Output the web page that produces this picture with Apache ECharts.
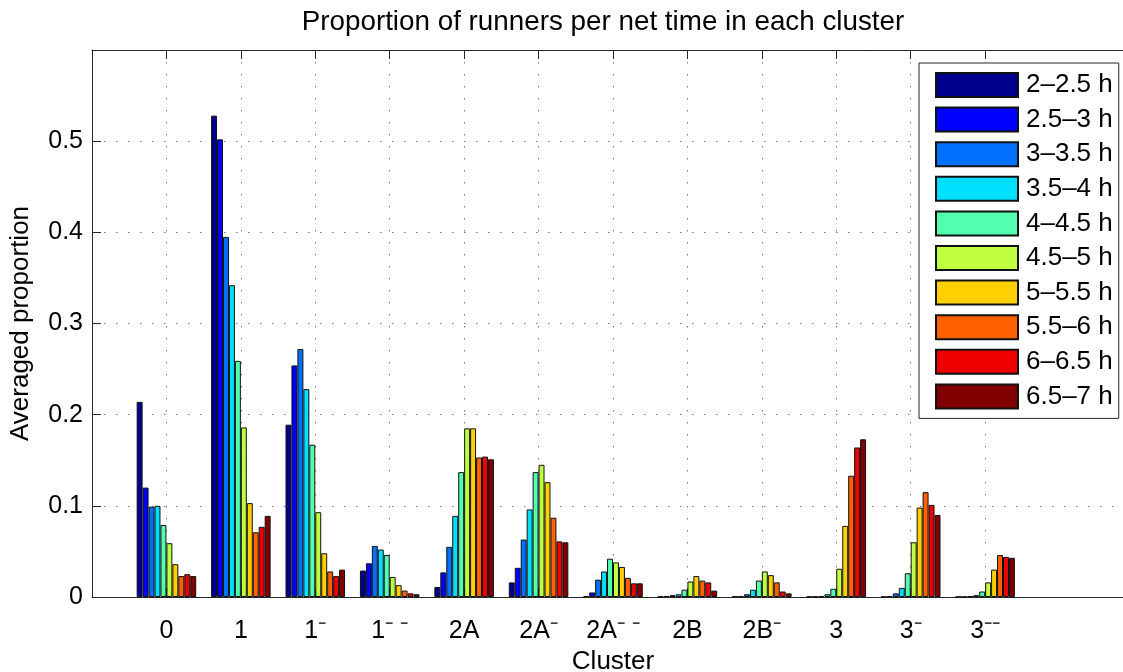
<!DOCTYPE html>
<html>
<head>
<meta charset="utf-8">
<title>Proportion of runners per net time in each cluster</title>
<script src="https://cdn.jsdelivr.net/npm/echarts@6/dist/echarts.min.js"></script>
<style>
  html, body { margin: 0; padding: 0; background: #fff; }
  #chart { width: 1123px; height: 672px; }
</style>
</head>
<body>
<div id="chart"></div>
<script>
// Cluster names shown under each bar group (group k sits at x = k + 1)
const clusters = ['0', '1', '1⁻', '1⁻ ⁻', '2A', '2A⁻', '2A⁻ ⁻', '2B', '2B⁻', '3', '3⁻', '3⁻⁻'];

// Net-time bins, one bar series each
const timeBins = ['2–2.5 h', '2.5–3 h', '3–3.5 h', '3.5–4 h', '4–4.5 h',
                  '4.5–5 h', '5–5.5 h', '5.5–6 h', '6–6.5 h', '6.5–7 h'];

// Jet-style colours for the ten bins
const binColors = ['#00008F', '#0000FF', '#0070FF', '#00DFFF', '#50FFAF',
                   '#BFFF40', '#FFCF00', '#FF6000', '#EF0000', '#800000'];

// Averaged proportion per cluster, one array per time bin
const t2_25  = [0.214, 0.528, 0.189, 0.029, 0.011, 0.016, 0.001, 0.0005, 0.0005, 0.0003, 0.0003, 0.0002];
const t25_3  = [0.120, 0.502, 0.254, 0.037, 0.027, 0.032, 0.005, 0.001, 0.001, 0.0005, 0.001, 0.0003];
const t3_35  = [0.099, 0.395, 0.272, 0.056, 0.055, 0.063, 0.019, 0.002, 0.003, 0.001, 0.004, 0.001];
const t35_4  = [0.100, 0.342, 0.228, 0.052, 0.089, 0.096, 0.028, 0.003, 0.008, 0.003, 0.010, 0.002];
const t4_45  = [0.079, 0.259, 0.167, 0.046, 0.137, 0.137, 0.042, 0.008, 0.018, 0.009, 0.026, 0.006];
const t45_5  = [0.059, 0.186, 0.093, 0.022, 0.185, 0.145, 0.038, 0.017, 0.028, 0.031, 0.060, 0.016];
const t5_55  = [0.036, 0.103, 0.048, 0.013, 0.185, 0.126, 0.033, 0.023, 0.024, 0.078, 0.098, 0.030];
const t55_6  = [0.023, 0.071, 0.028, 0.007, 0.153, 0.087, 0.021, 0.018, 0.016, 0.133, 0.115, 0.046];
const t6_65  = [0.025, 0.077, 0.023, 0.004, 0.154, 0.061, 0.015, 0.016, 0.006, 0.164, 0.101, 0.044];
const t65_7  = [0.023, 0.089, 0.030, 0.003, 0.151, 0.060, 0.015, 0.007, 0.004, 0.173, 0.090, 0.043];

const binValues = [t2_25, t25_3, t3_35, t35_4, t4_45, t45_5, t5_55, t55_6, t6_65, t65_7];

// Axis ticks
const yTicks = [0, 0.1, 0.2, 0.3, 0.4, 0.5];
const xTicks = clusters.map((_, i) => i + 1);

const FONT = '"Liberation Sans", Arial, Helvetica, sans-serif';
const FRAME = '#262626';
const gridDots = { color: '#7a7a7a', width: 1, type: [1.5, 10.5] };

const series = binValues.map((vals, b) => ({
  name: timeBins[b],
  type: 'bar',
  xAxisIndex: 0,
  yAxisIndex: 0,
  barGap: '0%',
  barCategoryGap: '20%',
  itemStyle: { color: binColors[b], borderColor: '#111', borderWidth: 1 },
  emphasis: { disabled: true },
  data: vals.map((v, i) => [i + 1, v])
}));

const chart = echarts.init(document.getElementById('chart'), null, { renderer: 'canvas' });

chart.setOption({
  animation: false,
  backgroundColor: '#fff',
  textStyle: { fontFamily: FONT, color: '#000' },
  title: {
    text: 'Proportion of runners per net time in each cluster',
    left: 598,
    textAlign: 'center',
    top: 3,
    textStyle: { fontFamily: FONT, fontSize: 27.8, fontWeight: 'normal', color: '#000' }
  },
  grid: {
    left: 92, top: 50, right: -11, bottom: 75,
    containLabel: false,
    outerBoundsMode: 'none'
  },
  legend: {
    orient: 'vertical',
    left: 919,
    top: 63,
    padding: [9, 6, 9, 16],
    itemWidth: 82,
    itemHeight: 24,
    itemGap: 8.6,
    icon: 'rect',
    backgroundColor: '#fff',
    borderColor: FRAME,
    borderWidth: 1,
    borderRadius: 0,
    selectedMode: false,
    textStyle: { fontFamily: FONT, fontSize: 26, color: '#000', padding: [0, 0, 0, 3] },
    data: timeBins
  },
  xAxis: [
    {
      type: 'value',
      position: 'bottom',
      min: 0,
      max: 14,
      interval: 1,
      name: 'Cluster',
      nameLocation: 'middle',
      nameGap: 47,
      nameTextStyle: { fontFamily: FONT, fontSize: 26, color: '#000' },
      axisLine: { show: true, onZero: false, lineStyle: { color: FRAME, width: 1 } },
      axisTick: { show: true, inside: true, length: 9, customValues: xTicks, lineStyle: { color: FRAME } },
      axisLabel: {
        show: true,
        customValues: xTicks,
        margin: 22,
        fontFamily: FONT,
        fontSize: 25,
        color: '#000',
        formatter: v => clusters[Math.round(v) - 1] || ''
      },
      splitLine: { show: true, lineStyle: gridDots }
    },
    {
      type: 'value',
      position: 'top',
      min: 0,
      max: 14,
      interval: 1,
      axisLine: { show: true, onZero: false, lineStyle: { color: FRAME, width: 1 } },
      axisTick: { show: true, inside: true, length: 9, customValues: xTicks, lineStyle: { color: FRAME } },
      axisLabel: { show: false },
      splitLine: { show: false }
    }
  ],
  yAxis: [
    {
      type: 'value',
      min: 0,
      max: 0.6,
      interval: 0.1,
      name: 'Averaged proportion',
      nameLocation: 'middle',
      nameGap: 58,
      nameTextStyle: { fontFamily: FONT, fontSize: 26, color: '#000' },
      axisLine: { show: true, onZero: false, lineStyle: { color: FRAME, width: 1 } },
      axisTick: { show: true, inside: true, length: 9, customValues: yTicks, lineStyle: { color: FRAME } },
      axisLabel: {
        show: true,
        customValues: yTicks,
        margin: 9,
        fontFamily: FONT,
        fontSize: 25,
        color: '#000',
        formatter: v => String(+v.toFixed(1))
      },
      splitLine: { show: true, lineStyle: gridDots }
    }
  ],
  series: series
});
</script>
</body>
</html>
